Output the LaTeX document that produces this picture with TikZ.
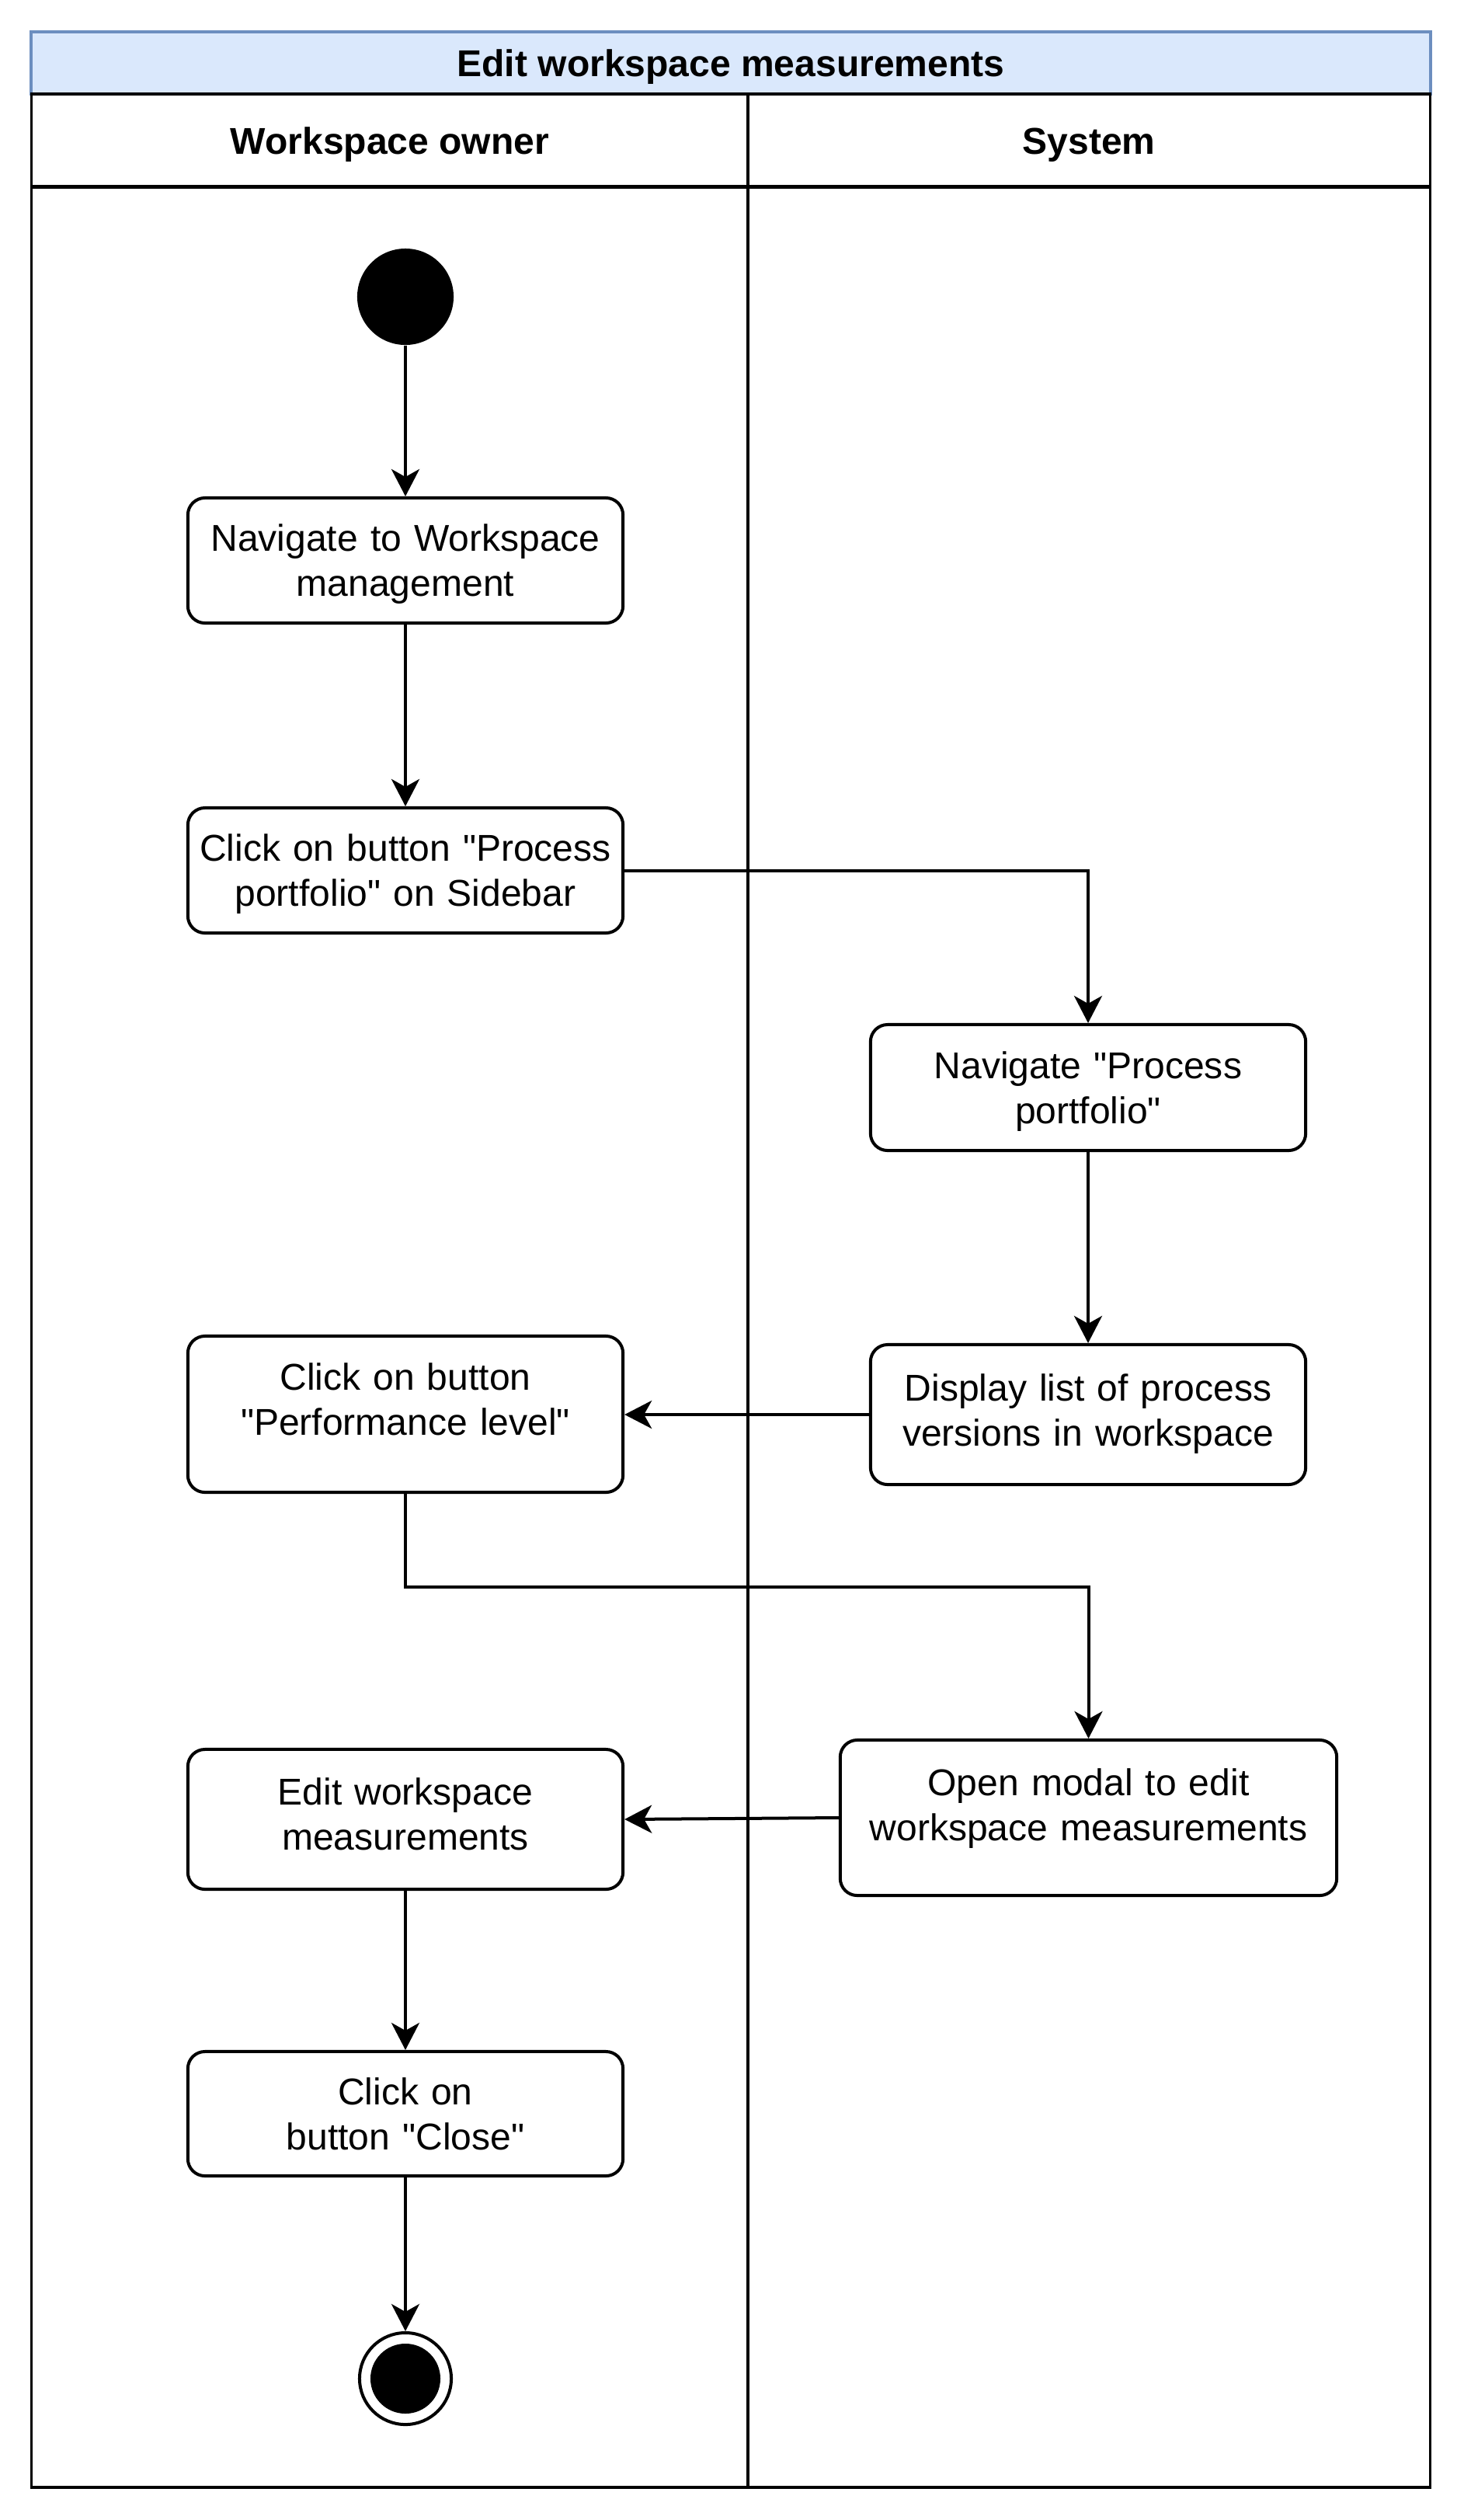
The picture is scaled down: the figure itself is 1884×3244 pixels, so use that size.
\documentclass[tikz,border=0pt]{standalone}
\usepackage{fontspec}
\setmainfont{Liberation Sans}[Ligatures=TeXOff]
\usetikzlibrary{arrows.meta}
\definecolor{poolfill}{HTML}{DAE8FC}
\definecolor{poolline}{HTML}{6C8EBF}
\newcommand\diagfont{\fontsize{13.66pt}{16.39pt}\selectfont}

\begin{document}
\begin{tikzpicture}[x=0.01cm, y=-0.01cm,
  pool_title/.style={rectangle, draw=poolline, fill=poolfill, line width=0.04cm,
              minimum width=18cm, minimum height=0.8cm, inner sep=0pt,
              font=\diagfont\bfseries, text height=0.344cm, text depth=0cm},
  lane/.style={rectangle, draw, line width=0.035cm, inner sep=0pt},
  lane_head/.style={lane, minimum height=1.2cm, font=\diagfont\bfseries,
              text height=0.344cm, text depth=0cm},
  action/.style={rectangle, draw, line width=0.04cm, rounded corners=0.22cm,
              minimum width=5.6cm, minimum height=1.61cm, inner sep=0pt,
              text width=5.4cm, align=center, font=\diagfont,
              text height=0.344cm, text depth=0.576cm},
  start_state/.style={circle, fill=black, minimum size=1.24cm, inner sep=0pt},
  end_state/.style={circle, draw, line width=0.04cm, minimum size=1.18cm,
              inner sep=0pt, path picture={\fill (path picture bounding box.center)
              circle (0.45cm);}},
  arrow/.style={-{Stealth[length=0.35cm, width=0.36cm, inset=0.1cm]},
              line width=0.04cm}
]
  \useasboundingbox (0,0) rectangle (1884,3244);

  \node[pool_title] (pool) at (941,81) {Edit workspace measurements};
  \node[lane_head, minimum width=9.22cm] (owner_head)  at (502,181)  {Workspace owner};
  \node[lane_head, minimum width=8.78cm] (system_head) at (1402,181) {System};
  \node[lane, minimum width=9.22cm, minimum height=29.6cm] (owner_lane)  at (502,1721)  {};
  \node[lane, minimum width=8.78cm, minimum height=29.6cm] (system_lane) at (1402,1721) {};

  \node[start_state] (start) at (522,382) {};
  \node[action] (nav_ws) at (522,721.5)
    {Navigate to Workspace\\management};
  \node[action] (click_pp) at (522,1120.5)
    {Click on button "Process\\portfolio" on Sidebar};
  \node[action, minimum height=1.62cm] (nav_pp) at (1401,1400)
    {Navigate "Process\\portfolio"};
  \node[action, minimum height=1.8cm, text depth=0.696cm] (show_list) at (1401,1821)
    {Display list of process\\versions in workspace};
  \node[action, minimum height=2.01cm, text depth=0.956cm] (click_perf) at (522,1820.5)
    {Click on button\\"Performance level"};
  \node[action, minimum width=6.39cm, text width=6.1cm, minimum height=2cm,
        text depth=0.916cm] (open_modal) at (1401.5,2340)
    {Open modal to edit\\workspace measurements};
  \node[action, minimum height=1.8cm, text depth=0.716cm] (edit_ms) at (522,2342)
    {Edit workspace\\measurements};
  \node[action, minimum height=1.6cm] (click_close) at (522,2721)
    {Click on\\button "Close"};
  \node[end_state] (finish) at (522,3062) {};

  \draw[arrow] (start) -- (nav_ws);
  \draw[arrow] (nav_ws) -- (click_pp);
  \draw[arrow] (click_pp.east) -| (nav_pp.north);
  \draw[arrow] (nav_pp) -- (show_list);
  \draw[arrow] (show_list.west) -- (show_list.west -| click_perf.east);
  \draw[arrow] (click_perf.south) -- ++(0,120) -| (open_modal.north);
  \draw[arrow] (open_modal.west) -- (edit_ms.east);
  \draw[arrow] (edit_ms) -- (click_close);
  \draw[arrow] (click_close) -- (finish);
\end{tikzpicture}
\end{document}
